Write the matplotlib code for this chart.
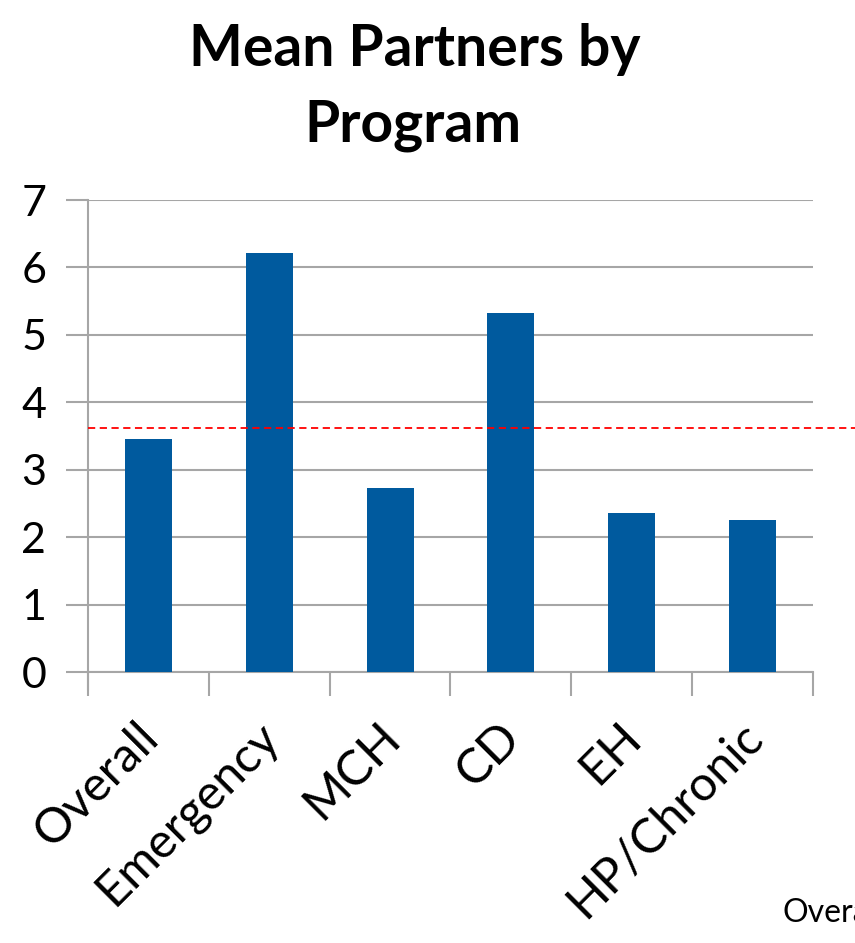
import matplotlib
matplotlib.use("Agg")
import matplotlib.pyplot as plt
import matplotlib.transforms as mtransforms

categories = ["Overall", "Emergency", "MCH", "CD", "EH", "HP/Chronic"]
values = [3.46, 6.21, 2.73, 5.33, 2.36, 2.25]
overall_mean = 3.62
yticks = [0, 1, 2, 3, 4, 5, 6, 7]

plt.rcParams['font.family'] = ['Lato', 'DejaVu Sans']

W, H = 855, 943
fig = plt.figure(figsize=(8.55, 9.43), dpi=100)
ax = fig.add_axes([0.1029, 0.2871, 0.848, 0.5008])

x = list(range(len(categories)))
ax.bar(x, values, width=0.39, color="#005A9E", zorder=3)
ax.set_xlim(-0.5, len(categories) - 0.5)
ax.set_ylim(0, 7)
ax.set_yticks(yticks)
ax.set_yticklabels([str(t) for t in yticks], fontsize=31)
ax.yaxis.grid(True, color="#A6A6A6", linewidth=1.5, zorder=0)
ax.tick_params(axis='y', length=16, width=1.5, color="#A6A6A6", pad=14)

for s in ["top", "right"]:
    ax.spines[s].set_visible(False)
for s in ["left", "bottom"]:
    ax.spines[s].set_color("#A6A6A6")
    ax.spines[s].set_linewidth(1.5)

# category boundary ticks
ax.set_xticks([i - 0.5 for i in range(len(categories) + 1)])
ax.set_xticklabels([])
ax.tick_params(axis='x', length=17, width=1.5, color="#A6A6A6")
ax.set_xticks(x, minor=True)
ax.set_xticklabels(categories, minor=True, rotation=45, ha='right',
                   va='top', rotation_mode='anchor', fontsize=35)
ax.tick_params(axis='x', which='minor', length=0, pad=30)
shift = mtransforms.ScaledTranslation(-0.13, 0, fig.dpi_scale_trans)
for lbl in ax.get_xticklabels(minor=True):
    lbl.set_transform(lbl.get_transform() + shift)

# left spine extends below axis to tick length
ax.plot([-0.5, -0.5], [0, -17 / 67.47], color="#A6A6A6", lw=1.5, clip_on=False)

# red dashed mean line extending past the axes
ax.plot([-0.5, 6.79], [overall_mean, overall_mean], color="#FF0000",
        lw=1.3, ls=(0, (4, 2.5)), clip_on=False, zorder=4)

fig.text(415 / W, 1 - 66 / H, "Mean Partners by", ha='center', va='baseline',
         fontsize=41, fontweight='bold')
fig.text(413 / W, 1 - 142 / H, "Program", ha='center', va='baseline',
         fontsize=41, fontweight='bold')
fig.text(782 / W, 1 - 922 / H, "Overall", fontsize=23, ha='left', va='baseline')

fig.savefig("out.png", dpi=100)
